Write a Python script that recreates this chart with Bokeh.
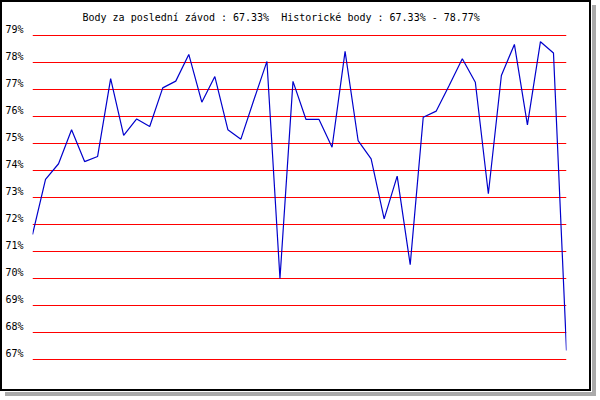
from bokeh.plotting import figure
from bokeh.models import Range1d, FixedTicker, CustomJSTickFormatter
from bokeh.embed import file_html
from bokeh.resources import INLINE

# Data (race index -> points in %)
races = list(range(42))
points = [71.63, 73.67, 74.25, 75.51, 74.33, 74.52, 77.40, 75.30, 75.91, 75.63,
          77.06, 77.31, 78.30, 76.53, 77.48, 75.51, 75.16, 76.62, 78.04, 70.00,
          77.30, 75.89, 75.89, 74.86, 78.41, 75.11, 74.43, 72.21, 73.79, 70.51,
          75.97, 76.20, 77.16, 78.14, 77.27, 73.14, 77.52, 78.67, 75.69, 78.77,
          78.35, 67.33]
grid_values = list(range(67, 80))
title_text = "Body za poslední závod : 67.33%\u00a0 Historické body : 67.33% - 78.77%"

FONT = "DejaVu Sans Mono"

p = figure(width=591, height=391, output_backend="svg", toolbar_location=None,
           x_range=Range1d(0, len(races) - 1), y_range=Range1d(66.5556, 79.2593),
           min_border_left=27, min_border_right=27, min_border_top=26, min_border_bottom=22,
           background_fill_color="white", border_fill_color="white")
p.outline_line_color = None
p.styles = {"border": "2px solid black",
            "box-shadow": "1px 1px 0 0 white, 5px 5px 0 0 #aaaaaa"}

p.title.text = title_text
p.title.text_font = FONT
p.title.text_font_size = "10px"
p.title.text_font_style = "normal"
p.title.text_color = "black"
p.title.align = "left"
p.title.offset = 50
p.title.standoff = 11

p.xaxis.visible = False
p.xgrid.visible = False

p.ygrid.ticker = FixedTicker(ticks=grid_values)
p.ygrid.grid_line_color = "#ff0000"
p.ygrid.grid_line_width = 1
p.ygrid.grid_line_alpha = 1.0

ax = p.yaxis[0]
ax.ticker = FixedTicker(ticks=[v + 0.22 for v in grid_values])
ax.formatter = CustomJSTickFormatter(code="return Math.floor(tick) + '%';")
ax.axis_line_color = None
ax.major_tick_line_color = None
ax.minor_tick_line_color = None
ax.major_label_standoff = 3
ax.major_label_text_font = FONT
ax.major_label_text_font_size = "10px"
ax.major_label_text_color = "black"

p.line(races, points, line_color="#0000cc", line_width=1.2)

open("out.html", "w").write(file_html(p, INLINE))
